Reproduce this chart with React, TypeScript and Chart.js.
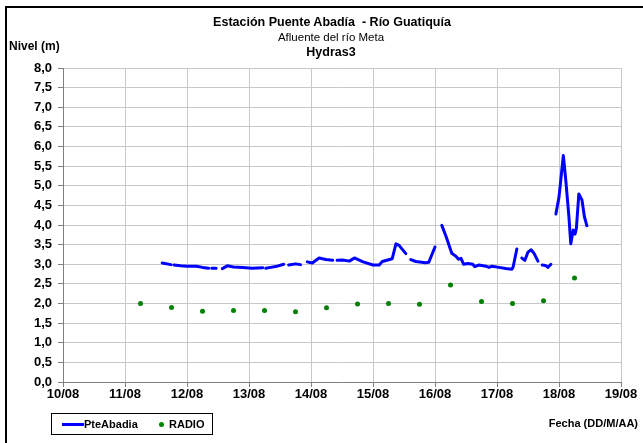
import React, { useEffect, useRef } from "react";
import { Chart, registerables } from "chart.js";

Chart.register(...registerables);

// PteAbadia level series (day of August, level in m). null = gap in record
const pteDays = [
  11.6, 11.74, 11.765,
  11.79, 11.9, 12.0, 12.15, 12.25, 12.35, 12.375,
  12.4, 12.47, 12.52,
  12.57, 12.65, 12.75, 12.9, 13.05, 13.22, 13.245,
  13.27, 13.35, 13.43, 13.56, 13.6,
  13.64, 13.75, 13.83, 13.885,
  13.94, 14.02, 14.13, 14.24, 14.35, 14.385,
  14.42, 14.51, 14.62, 14.7, 14.84, 15.0, 15.1, 15.15, 15.31, 15.37, 15.42, 15.53, 15.57,
  15.61, 15.69, 15.85, 15.9, 16.0, 16.055,
  16.11, 16.18, 16.27, 16.34, 16.38, 16.42, 16.46, 16.53, 16.61, 16.64, 16.71, 16.82, 16.87, 16.92, 17.03, 17.14, 17.24, 17.26, 17.32, 17.36,
  17.4, 17.45, 17.5, 17.55, 17.6, 17.66, 17.695,
  17.73, 17.78, 17.82, 17.87, 17.91,
  17.95, 18.0, 18.07, 18.11, 18.16, 18.19, 18.23, 18.26, 18.28, 18.32, 18.37, 18.41, 18.45,
];
const pteLevels = [
  3.03, 2.99, null,
  2.98, 2.96, 2.95, 2.95, 2.92, 2.9, null,
  2.9, 2.9, null,
  2.89, 2.96, 2.93, 2.92, 2.9, 2.91, null,
  2.9, 2.92, 2.94, 3.0, null,
  2.98, 3.01, 2.99, null,
  3.06, 3.03, 3.16, 3.12, 3.1, null,
  3.1, 3.11, 3.08, 3.16, 3.06, 2.98, 2.98, 3.07, 3.14, 3.52, 3.48, 3.27, null,
  3.12, 3.07, 3.04, 3.05, 3.44, null,
  3.99, 3.7, 3.28, 3.2, 3.13, 3.15, 3.0, 3.02, 3.0, 2.94, 2.98, 2.95, 2.92, 2.95, 2.92, 2.89, 2.87, 2.93, 3.39, null,
  3.16, 3.1, 3.31, 3.37, 3.27, 3.08, null,
  2.98, 2.97, 2.92, 3.0, null,
  4.28, 4.71, 5.77, 5.13, 4.21, 3.52, 3.87, 3.77, 3.91, 4.79, 4.64, 4.21, 3.98,
];

// RADIO readings
const radioDays = [11.25, 11.75, 12.25, 12.75, 13.25, 13.75, 14.25, 14.75, 15.25, 15.75, 16.25, 16.75, 17.25, 17.75, 18.25];
const radioLevels = [2.0, 1.9, 1.8, 1.82, 1.82, 1.79, 1.89, 1.99, 2.0, 1.98, 2.47, 2.05, 2.0, 2.07, 2.65];

// axes
const xMin = 10;
const xMax = 19;
const yMin = 0;
const yMax = 8;
const yStep = 0.5;
const monthLabel = "08";

const titleLines = ["Estación Puente Abadía  - Río Guatiquía", "Afluente del río Meta", "Hydras3"];
const yAxisTitle = "Nivel (m)";
const xAxisTitle = "Fecha (DD/M/AA)";
const seriesNames = ["PteAbadia", "RADIO"];

const FONT = "'Liberation Sans', Arial, sans-serif";

export default function App() {
  const canvasRef = useRef<HTMLCanvasElement | null>(null);

  useEffect(() => {
    const canvas = canvasRef.current;
    if (!canvas) return;
    const chart = new Chart(canvas, {
      type: "line",
      data: {
        datasets: [
          {
            label: seriesNames[0],
            data: pteDays.map((d, i) => ({ x: d, y: pteLevels[i] })) as any,
            borderColor: "#0000ff",
            backgroundColor: "#0000ff",
            borderWidth: 3,
            borderJoinStyle: "round",
            borderCapStyle: "round",
            pointRadius: 0,
            tension: 0,
            spanGaps: false,
            order: 2,
          },
          {
            label: seriesNames[1],
            data: radioDays.map((d, i) => ({ x: d, y: radioLevels[i] })),
            showLine: false,
            borderColor: "#008000",
            backgroundColor: "#008000",
            pointRadius: 2.5,
            pointBorderWidth: 0,
            order: 1,
          },
        ],
      },
      options: {
        responsive: false,
        animation: false,
        devicePixelRatio: 1,
        layout: { padding: { top: 68, right: 22, bottom: 0, left: 0 } },
        plugins: {
          legend: { display: false },
          title: { display: false },
          tooltip: { enabled: false },
        },
        scales: {
          x: {
            type: "linear",
            min: xMin,
            max: xMax,
            afterFit: (scale: any) => {
              scale.height = 61;
            },
            ticks: {
              stepSize: 1,
              autoSkip: false,
              maxRotation: 0,
              padding: 0,
              color: "#000",
              font: { family: FONT, size: 13, weight: "bold" },
              callback: (v: any) => `${v}/${monthLabel}`,
            },
            grid: {
              color: "#c8c8c8",
              tickColor: "#808080",
              tickLength: 5,
              lineWidth: 1,
            },
            border: { color: "#808080", width: 1 },
          },
          y: {
            type: "linear",
            min: yMin,
            max: yMax,
            afterFit: (scale: any) => {
              scale.width = 63;
            },
            ticks: {
              stepSize: yStep,
              autoSkip: false,
              padding: 6,
              color: "#000",
              font: { family: FONT, size: 13, weight: "bold" },
              callback: (v: any) => Number(v).toFixed(1).replace(".", ","),
            },
            grid: {
              color: "#c8c8c8",
              tickColor: "#808080",
              tickLength: 5,
              lineWidth: 1,
            },
            border: { color: "#808080", width: 1 },
          },
        },
      },
    });
    return () => chart.destroy();
  }, []);

  const textBase: React.CSSProperties = {
    position: "absolute",
    fontFamily: FONT,
    color: "#000",
    whiteSpace: "pre",
    lineHeight: 1,
  };

  return (
    <div style={{ position: "fixed", left: 0, top: 0, width: 643, height: 443, background: "#fff", overflow: "hidden" }}>
      <div
        style={{
          position: "absolute",
          left: 5,
          top: 6,
          width: 700,
          height: 500,
          border: "2px solid #000",
          boxSizing: "border-box",
        }}
      />
      <canvas ref={canvasRef} width={643} height={443} style={{ position: "absolute", left: 0, top: 0, width: 643, height: 443 }} />
      <div style={{ ...textBase, left: 0, width: 664, textAlign: "center", top: 16, fontSize: 12.5, fontWeight: "bold" }}>
        {titleLines[0]}
      </div>
      <div style={{ ...textBase, left: 0, width: 662, textAlign: "center", top: 32, fontSize: 11.5 }}>{titleLines[1]}</div>
      <div style={{ ...textBase, left: 0, width: 662, textAlign: "center", top: 46, fontSize: 12.5, fontWeight: "bold" }}>
        {titleLines[2]}
      </div>
      <div style={{ ...textBase, left: 9, top: 40, fontSize: 12, fontWeight: "bold" }}>{yAxisTitle}</div>
      <div style={{ ...textBase, right: 5, top: 418, fontSize: 11, fontWeight: "bold" }}>{xAxisTitle}</div>
      <div
        style={{
          position: "absolute",
          left: 51,
          top: 413,
          width: 162,
          height: 22,
          border: "1px solid #000",
          boxSizing: "border-box",
          fontFamily: FONT,
          fontSize: 11,
          fontWeight: "bold",
        }}
      >
        <div style={{ position: "absolute", left: 10, top: 9, width: 22, height: 3, background: "#0000ff" }} />
        <div style={{ ...textBase, left: 32, top: 5 }}>{seriesNames[0]}</div>
        <div style={{ position: "absolute", left: 107, top: 8, width: 5, height: 5, borderRadius: "50%", background: "#008000" }} />
        <div style={{ ...textBase, left: 117, top: 5 }}>{seriesNames[1]}</div>
      </div>
    </div>
  );
}
